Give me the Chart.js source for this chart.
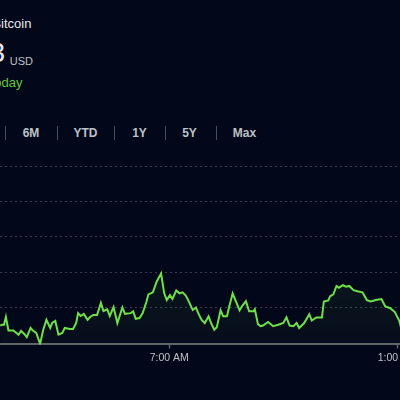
<!DOCTYPE html>
<html>
<head>
<meta charset="utf-8">
<script src="https://cdn.jsdelivr.net/npm/chart.js@4"></script>
<style>
  html, body { margin:0; padding:0; }
  body { width:400px; height:400px; overflow:hidden; background:#03071a; position:relative;
         font-family:"Liberation Sans", Arial, sans-serif; }
  .abs { position:absolute; white-space:nowrap; line-height:1; }
  #name { left:-7.6px; top:17.3px; font-size:13px; color:#e8eaed; }
  #price { right:395px; top:39.3px; font-size:28px; color:#e8eaed; }
  #cur { left:9.8px; top:55.7px; font-size:11px; color:#bdc1c6; }
  #chg { right:377.5px; top:75.7px; font-size:13px; color:#5ec83c; }
  .rng { position:absolute; top:126.8px; font-size:12px; font-weight:bold; color:#bdc1c6;
         line-height:1; transform:translateX(-50%); white-space:nowrap; }
  .sep { position:absolute; top:125.5px; width:1px; height:14.5px; background:#4a4e55; }
  #wrap { position:absolute; left:0; top:150px; width:440px; height:217px; }
</style>
</head>
<body>
<div id="name" class="abs">Bitcoin</div>
<div id="price" class="abs">26,058.83</div>
<div id="cur" class="abs">USD</div>
<div id="chg" class="abs">+58.12 (0.22%) today</div>

<div class="rng" style="left:-128px">1D</div>
<div class="sep" style="left:-101px"></div>
<div class="rng" style="left:-75px">5D</div>
<div class="sep" style="left:-48px"></div>
<div class="rng" style="left:-22px">1M</div>
<div class="sep" style="left:5px"></div>
<div class="rng" style="left:31px">6M</div>
<div class="sep" style="left:57px"></div>
<div class="rng" style="left:85.5px">YTD</div>
<div class="sep" style="left:114px"></div>
<div class="rng" style="left:139.5px">1Y</div>
<div class="sep" style="left:165px"></div>
<div class="rng" style="left:189.5px">5Y</div>
<div class="sep" style="left:216px"></div>
<div class="rng" style="left:244.5px">Max</div>

<div id="wrap"><canvas id="c"></canvas></div>

<script>
// ---- data ----
const times = [
 "02:33","02:36","02:39","02:42","02:46","02:54","03:02","03:06","03:11","03:15",
 "03:21","03:25","03:30","03:36","03:41","03:46","03:52","03:55","04:00","04:05",
 "04:11","04:15","04:23","04:28","04:33","04:36","04:40","04:45","04:51","04:55",
 "05:00","05:06","05:12","05:16","05:22","05:26","05:32","05:38","05:46","05:50",
 "05:59","06:03","06:07","06:13","06:18","06:24","06:27","06:34","06:40","06:47",
 "06:52","06:56","07:01","07:05","07:11","07:16","07:21","07:26","07:30","07:37",
 "07:42","07:47","07:51","07:56","08:02","08:06","08:11","08:15","08:21","08:25",
 "08:31","08:34","08:40","08:45","08:51","08:55","09:01","09:06","09:13","09:15",
 "09:20","09:24","09:28","09:36","09:44","09:52","10:00","10:05","10:10","10:16",
 "10:21","10:25","10:33","10:41","10:45","10:52","11:01","11:04","11:11","11:14",
 "11:19","11:24","11:28","11:34","11:39","11:44","11:51","11:57","12:05","12:12",
 "12:18","12:26","12:35","12:41","12:49","12:56","13:03","13:06","13:11"
];
const prices = [
 26049,26051,26051,26073,26035,26035,26023,26034,26025,26016,
 26042,26034,26028,25997,26037,26065,26042,26056,26062,26023,
 26028,26042,26039,26039,26056,26084,26076,26082,26065,26073,
 26079,26079,26113,26090,26095,26076,26101,26056,26100,26082,
 26084,26089,26068,26070,26084,26117,26137,26143,26173,26196,
 26140,26121,26135,26124,26148,26140,26143,26134,26120,26093,
 26100,26079,26065,26056,26075,26056,26037,26044,26092,26075,
 26075,26098,26140,26118,26092,26104,26118,26089,26089,26095,
 26053,26047,26049,26059,26047,26051,26056,26072,26049,26047,
 26056,26042,26056,26081,26063,26072,26072,26117,26120,26132,
 26137,26161,26156,26163,26159,26161,26149,26146,26143,26121,
 26117,26121,26124,26103,26098,26087,26063,26042,26048
];
const xTickTimes  = ["07:00", "13:00"];
const xTickLabels = ["7:00 AM", "1:00 PM"];
const yGridValues = [26100, 26200, 26300, 26400, 26500];

// ---- helpers ----
const toMin = s => { const [h, m] = s.split(":").map(Number); return h * 60 + m; };
const points = times.map((t, i) => ({ x: toMin(t), y: prices[i] }));
const xTickMins = xTickTimes.map(toMin);

const lineColor = "#6fe04a";

new Chart(document.getElementById("c"), {
  type: "line",
  data: {
    datasets: [{
      data: points,
      borderColor: lineColor,
      borderWidth: 2,
      pointRadius: 0,
      tension: 0,
      fill: "start",
      backgroundColor: (ctx) => {
        const area = ctx.chart.chartArea;
        if (!area) return "rgba(111,224,74,0.06)";
        const g = ctx.chart.ctx.createLinearGradient(0, area.top, 0, area.bottom);
        g.addColorStop(0, "rgba(111,224,74,0.14)");
        g.addColorStop(1, "rgba(111,224,74,0.03)");
        return g;
      }
    }]
  },
  options: {
    responsive: true,
    maintainAspectRatio: false,
    animation: false,
    devicePixelRatio: 1,
    layout: { padding: 0 },
    plugins: { legend: { display: false }, tooltip: { enabled: false } },
    scales: {
      x: {
        type: "linear",
        min: 152.7,
        max: 847.4,
        afterBuildTicks: (axis) => { axis.ticks = xTickMins.map(v => ({ value: v })); },
        ticks: {
          padding: 3,
          maxRotation: 0,
          autoSkip: false,
          color: "#bdc1c6",
          font: { family: "'Liberation Sans', Arial, sans-serif", size: 10.5 },
          callback: (v) => { const i = xTickMins.indexOf(v); return i >= 0 ? xTickLabels[i] : ""; }
        },
        grid: { drawOnChartArea: false, drawTicks: true, tickLength: 4, tickWidth: 1.5, tickColor: "#5f6368", color: "#5f6368" },
        border: { display: true, color: "#5f6368", width: 2 }
      },
      y: {
        position: "right",
        min: 25995.5,
        max: 26545.8,
        afterBuildTicks: (axis) => { axis.ticks = yGridValues.map(v => ({ value: v })); },
        ticks: { display: false },
        grid: { color: "rgba(120,126,134,0.45)", lineWidth: 1, drawTicks: false },
        border: { display: false, dash: [2, 3] }
      }
    }
  }
});
</script>
</body>
</html>
